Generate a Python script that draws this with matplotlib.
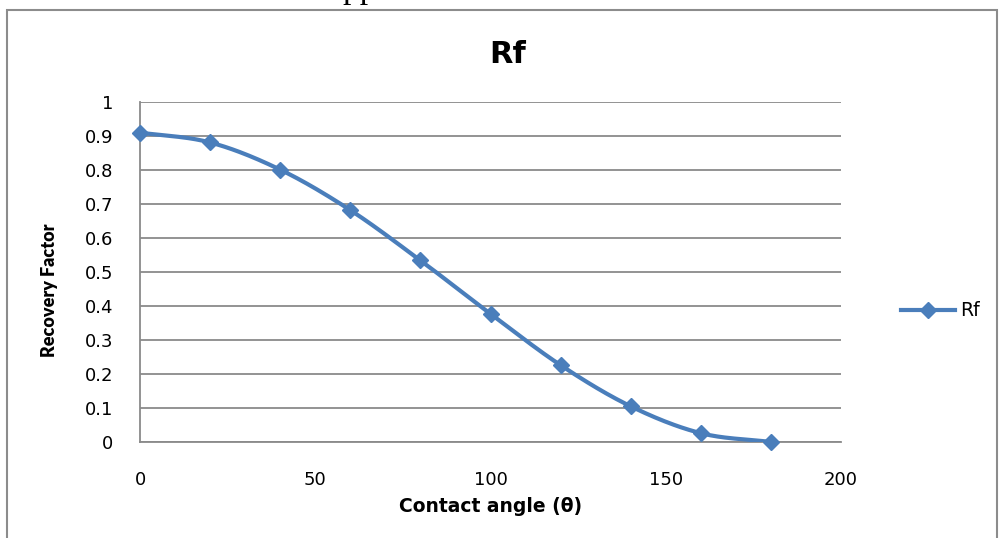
import numpy as np
import matplotlib
matplotlib.use("Agg")
import matplotlib.pyplot as plt
from matplotlib.patches import Rectangle
from matplotlib.lines import Line2D

angles = [0, 20, 40, 60, 80, 100, 120, 140, 160, 180]
rf = [0.91, 0.881, 0.801, 0.682, 0.534, 0.377, 0.226, 0.105, 0.026, 0.0]
x_ticks = [0, 50, 100, 150, 200]
y_ticks = [0, 0.1, 0.2, 0.3, 0.4, 0.5, 0.6, 0.7, 0.8, 0.9, 1]
y_tick_labels = ["0", "0.1", "0.2", "0.3", "0.4", "0.5", "0.6", "0.7", "0.8", "0.9", "1"]

COLOR = "#4A7EBB"
GRID = "#8a8a8a"
FONT = ["DejaVu Sans"]
LABELFONT = ["Lato", "DejaVu Sans"]


def catmull_rom(xs, ys, n=30):
    xs = np.asarray(xs, float)
    ys = np.asarray(ys, float)
    px = np.concatenate([[2 * xs[0] - xs[1]], xs, [2 * xs[-1] - xs[-2]]])
    py = np.concatenate([[2 * ys[0] - ys[1]], ys, [2 * ys[-1] - ys[-2]]])
    outx, outy = [], []
    t = np.linspace(0, 1, n)
    for i in range(1, len(px) - 2):
        for k, arr in enumerate((px, py)):
            a0, a1, a2, a3 = arr[i - 1], arr[i], arr[i + 1], arr[i + 2]
            c1 = a1 + (a2 - a0) / 6
            c2 = a2 - (a3 - a1) / 6
            v = (1 - t) ** 3 * a1 + 3 * (1 - t) ** 2 * t * c1 + 3 * (1 - t) * t ** 2 * c2 + t ** 3 * a2
            (outx if k == 0 else outy).extend(v.tolist())
    return outx, outy


fig = plt.figure(figsize=(10, 5.38), dpi=100)

# partial caption at top of page (cut off in the reference)
fig.text(0.49, 1 - 5 / 538, "shown in table 3.2 in Appendix A.", ha="right", va="bottom",
         fontsize=24, family=["Liberation Serif", "DejaVu Serif"], color="black")

# chart border
fig.patches.append(Rectangle((7 / 1000, -0.05), 990 / 1000, 1 - 10 / 538 + 0.05,
                             transform=fig.transFigure, fill=False, edgecolor="#8c8c8c", linewidth=1.5))

ax = fig.add_axes([0.14, 1 - 442 / 538, 0.701, 340 / 538])
sx, sy = catmull_rom(angles, rf)
ax.plot(sx, sy, color=COLOR, linewidth=3.0, solid_capstyle="round", zorder=3)
ax.plot(angles, rf, linestyle="none", marker="D", markersize=8.5, markeredgewidth=1,
        color=COLOR, zorder=4, clip_on=False)

ax.set_xlim(0, 200)
ax.set_ylim(0, 1)
ax.set_xticks(x_ticks)
ax.set_yticks(y_ticks)
ax.set_yticklabels(y_tick_labels)
ax.grid(axis="y", color=GRID, linewidth=1.3)
ax.set_axisbelow(True)
for s in ["top", "right"]:
    ax.spines[s].set_visible(False)
for s in ["left", "bottom"]:
    ax.spines[s].set_color(GRID)
    ax.spines[s].set_linewidth(1.3)
ax.tick_params(axis="y", length=0, pad=19, labelsize=13)
ax.tick_params(axis="x", length=0, pad=21, labelsize=13)
for lab in ax.get_xticklabels() + ax.get_yticklabels():
    lab.set_family(FONT)

ax.set_xlabel("Contact angle (θ)", fontsize=13.5, fontweight="bold", family=FONT, labelpad=6)
ax.set_ylabel("Recovery Factor", fontsize=13, fontweight="heavy", family=LABELFONT)
ax.yaxis.set_label_coords((58 - 140) / 701, (442 - 290) / 340)
fig.text(0.508, 1 - 55 / 538, "Rf", ha="center", va="center", fontsize=22, fontweight="bold", family=FONT)

handle = Line2D([], [], color=COLOR, linewidth=3.0, marker="D", markersize=8.5)
fig.legend([handle], ["Rf"], loc="center left", bbox_to_anchor=(0.901, 1 - 311 / 538),
           frameon=False, handlelength=2.9, handletextpad=0.27, borderpad=0, borderaxespad=0,
           prop={"family": FONT, "size": 13.5})

fig.savefig("out.png", dpi=100)
